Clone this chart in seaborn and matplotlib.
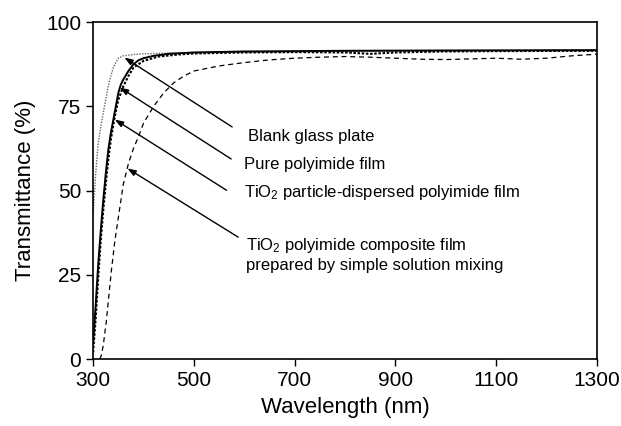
import matplotlib
matplotlib.use("Agg")
import matplotlib.pyplot as plt
import seaborn as sns
import pandas as pd

# ---- data ----
blank_x = [300, 305, 310, 315, 320, 325, 330, 335, 340, 345, 350, 360, 380, 400, 500, 700, 900, 1100, 1300]
blank_y = [43, 55, 64, 69, 73, 77, 81, 84, 86.5, 88, 89.3, 90, 90.4, 90.6, 91, 91.2, 91.4, 91.5, 91.5]

pure_x = [300, 305, 310, 315, 320, 325, 330, 335, 340, 345, 350, 355, 360, 370, 380, 390, 400, 420, 450, 500, 600, 800, 1000, 1300]
pure_y = [5, 16, 28, 38, 47, 55, 62, 67, 71, 75, 79, 81.5, 83, 85.5, 87.5, 88.7, 89.3, 90, 90.6, 91, 91.3, 91.5, 91.6, 91.7]

particle_x = [300, 305, 310, 315, 320, 325, 330, 335, 340, 345, 350, 360, 370, 380, 400, 430, 470, 500, 600, 700, 800, 850, 900, 1000, 1100, 1300]
particle_y = [2, 12, 24, 35, 44, 52, 59, 65, 69.5, 73.5, 77, 81, 84, 86.5, 88.5, 89.8, 90.4, 90.7, 91.0, 91.1, 91.0, 90.6, 91.0, 91.3, 91.4, 91.5]

composite_x = [313, 316, 320, 326, 330, 336, 343, 350, 360, 370, 380, 390, 400, 420, 440, 460, 480, 500, 550, 600, 650, 700, 750, 800, 850, 900, 950, 1000, 1050, 1100, 1150, 1200, 1250, 1300]
composite_y = [0, 1, 4, 11, 17, 26, 35, 42, 52, 58, 62.5, 66, 70, 75, 79, 82, 84, 85.5, 87, 88, 88.8, 89.3, 89.6, 89.8, 89.6, 89.3, 89.0, 88.9, 89.1, 89.3, 89.0, 89.3, 90.0, 90.5]

labels = ["Blank glass plate", "Pure polyimide film",
          "TiO$_2$ particle-dispersed polyimide film",
          "TiO$_2$ polyimide composite film\nprepared by simple solution mixing"]
x_ticks = [300, 500, 700, 900, 1100, 1300]
y_ticks = [0, 25, 50, 75, 100]

# ---- style ----
sns.set_style("ticks")
plt.rcParams["font.family"] = ["Liberation Sans", "DejaVu Sans"]
plt.rcParams["mathtext.fontset"] = "custom"
plt.rcParams["mathtext.rm"] = "Liberation Sans"
plt.rcParams["mathtext.default"] = "rm"
plt.rcParams["text.color"] = "black"
plt.rcParams["axes.labelcolor"] = "black"
plt.rcParams["xtick.color"] = "black"
plt.rcParams["ytick.color"] = "black"

fig = plt.figure(figsize=(6.21, 4.26), dpi=100)
ax = fig.add_axes([0.150, 0.157, 0.811, 0.791])

series = [
    (blank_x, blank_y, dict(color="#666666", lw=1.0, linestyle=(0, (1, 1)))),
    (pure_x, pure_y, dict(color="black", lw=1.4, linestyle="-")),
    (particle_x, particle_y, dict(color="black", lw=1.5, linestyle=(0, (1.2, 0.8)))),
    (composite_x, composite_y, dict(color="black", lw=0.9, linestyle=(0, (4, 3)))),
]
for (xs, ys, st), lab in zip(series, labels):
    df = pd.DataFrame({"wl": xs, "T": ys})
    sns.lineplot(data=df, x="wl", y="T", ax=ax, estimator=None, sort=False,
                 color=st["color"], linewidth=st["lw"], linestyle=st["linestyle"])

ax.set_xlim(300, 1300)
ax.set_ylim(0, 100)
ax.set_xticks(x_ticks)
ax.set_yticks(y_ticks)
ax.tick_params(axis="both", labelsize=15, direction="out", length=5, width=1,
               color="black", labelcolor="black")
for s in ax.spines.values():
    s.set_visible(True)
    s.set_linewidth(1.2)
    s.set_color("black")
ax.set_xlabel("Wavelength (nm)", fontsize=16, labelpad=5, color="black")
ax.set_ylabel("Transmittance (%)", fontsize=16, labelpad=7, color="black")

# ---- annotations ----
arrows = [((576, 68.9), (362, 89.5)),
          ((574, 59.4), (353, 80.6)),
          ((565, 50.1), (343, 71.1)),
          ((588, 36.2), (368, 56.6))]
for tail, head in arrows:
    ax.annotate("", xy=head, xytext=tail,
                arrowprops=dict(arrowstyle="-|>,head_length=0.5,head_width=0.18",
                                color="black", lw=1.0, shrinkA=0, shrinkB=0))

text_pos = [(608, 66.1), (600, 57.9), (600, 49.5), (604, 31.0)]
for (tx, ty), lab in zip(text_pos, labels):
    ax.text(tx, ty, lab, fontsize=12, ha="left", va="center", linespacing=1.3,
            color="black")

fig.savefig("out.png", dpi=100)
